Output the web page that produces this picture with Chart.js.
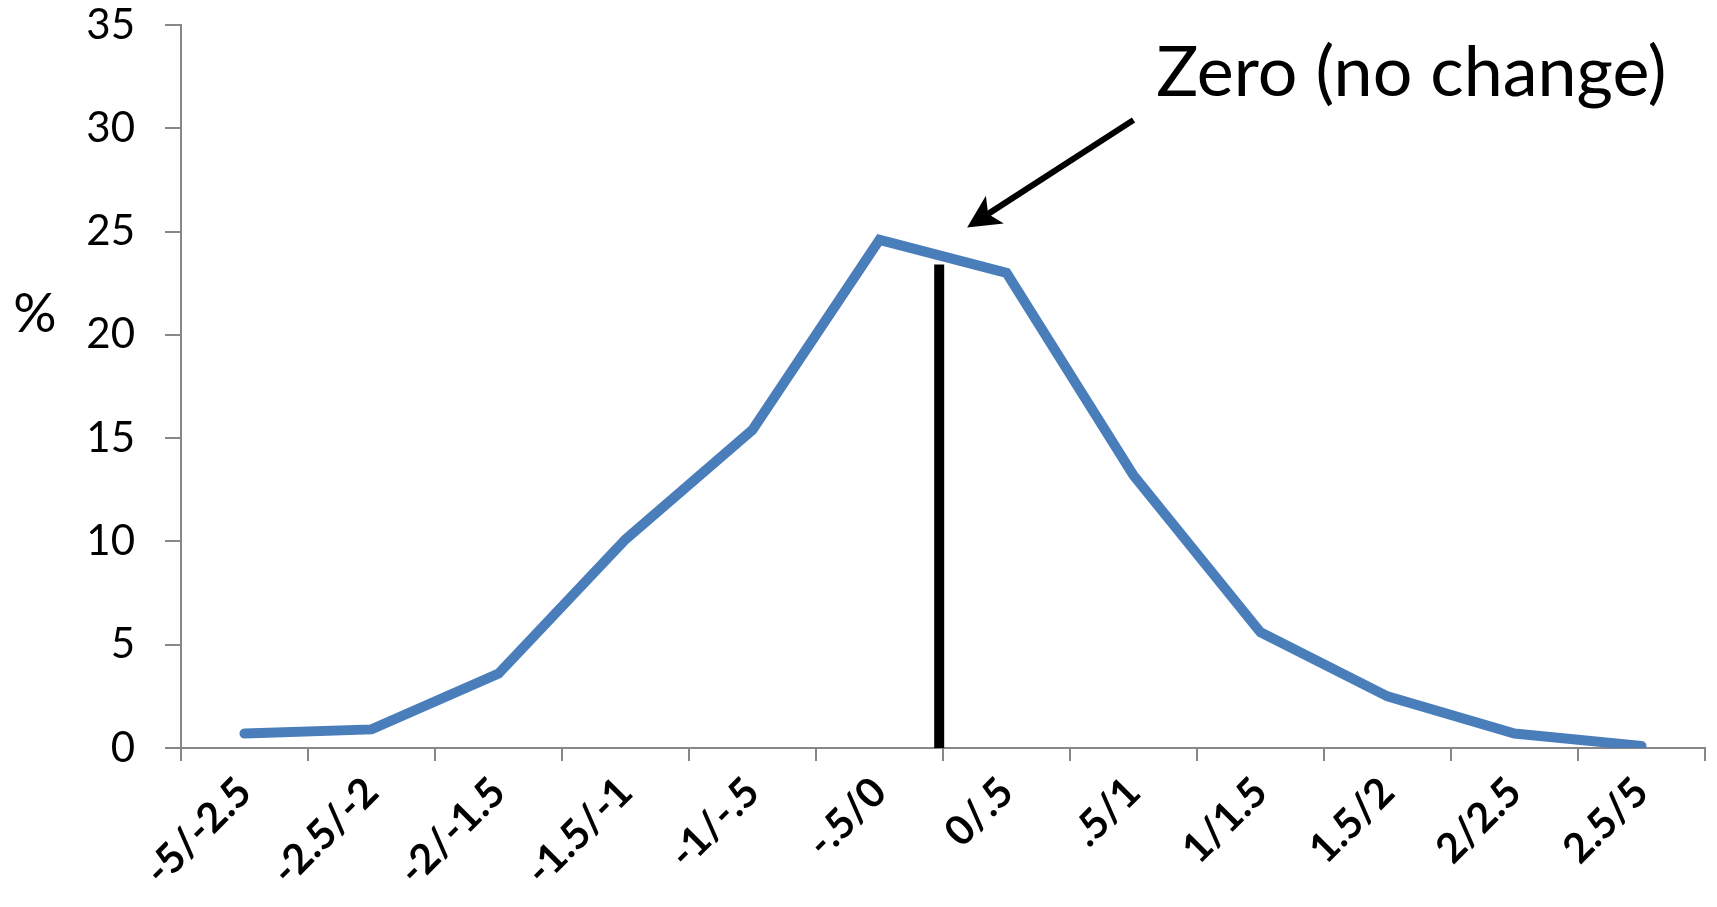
<!DOCTYPE html>
<html>
<head>
<meta charset="utf-8">
<script src="https://cdn.jsdelivr.net/npm/chart.js@4.4.1/dist/chart.umd.min.js"></script>
<style>
  html, body { margin: 0; padding: 0; background: #ffffff; }
  #wrap { width: 1717px; height: 907px; position: relative; }
</style>
</head>
<body>
<div id="wrap"><canvas id="c" width="1717" height="907"></canvas></div>
<script>
// Distribution of changes, grouped into bins
const categories = ['-5/-2.5', '-2.5/-2', '-2/-1.5', '-1.5/-1', '-1/-.5', '-.5/0',
                    '0/.5', '.5/1', '1/1.5', '1.5/2', '2/2.5', '2.5/5'];
const shares = [0.7, 0.9, 3.6, 10.1, 15.4, 24.6, 23.0, 13.2, 5.6, 2.5, 0.7, 0.1];
const yTicks = [0, 5, 10, 15, 20, 25, 30, 35];
const yTitle = '%';

// Zero marker: position on the category axis (index units) and its height in %
const zeroMark = { x: 5.47, top: 23.4 };

// Callout pointing at the zero marker (positions in axis units)
const calloutText = 'Zero (no change)';
const calloutTail = { x: 7.0, y: 30.4 };
const calloutTip = { x: 5.69, y: 25.2 };
const calloutLabel = { x: 7.18, y: 31.55 };

const AXIS_GREY = '#878787';
const LINE_BLUE = '#4A7EBB';
const FONT = 'Lato, "Open Sans", sans-serif';

function drawArrow(ctx, x0, y0, x1, y1) {
  const ang = Math.atan2(y1 - y0, x1 - x0);
  const headLen = 33, headHalf = 16.5, notch = 25;
  const cx = Math.cos(ang), cy = Math.sin(ang);
  const bx = x1 - cx * notch, by = y1 - cy * notch;
  const hx = x1 - cx * headLen, hy = y1 - cy * headLen;
  const nx = -cy, ny = cx;
  ctx.lineWidth = 6;
  ctx.lineCap = 'butt';
  ctx.beginPath();
  ctx.moveTo(x0, y0);
  ctx.lineTo(bx, by);
  ctx.stroke();
  ctx.beginPath();
  ctx.moveTo(x1, y1);
  ctx.lineTo(hx + nx * headHalf, hy + ny * headHalf);
  ctx.lineTo(bx, by);
  ctx.lineTo(hx - nx * headHalf, hy - ny * headHalf);
  ctx.closePath();
  ctx.fill();
}

const overlay = {
  id: 'overlay',
  beforeDatasetsDraw(chart) {
    const { ctx, scales: { x, y } } = chart;
    const px = x.getPixelForValue(zeroMark.x);
    ctx.save();
    ctx.strokeStyle = '#000000';
    ctx.lineWidth = 10;
    ctx.lineCap = 'butt';
    ctx.beginPath();
    ctx.moveTo(px, y.getPixelForValue(0));
    ctx.lineTo(px, y.getPixelForValue(zeroMark.top));
    ctx.stroke();
    ctx.restore();
  },
  afterDraw(chart) {
    const { ctx, scales: { x, y } } = chart;
    ctx.save();
    ctx.fillStyle = '#000000';
    ctx.strokeStyle = '#000000';
    drawArrow(ctx,
      x.getPixelForValue(calloutTail.x), y.getPixelForValue(calloutTail.y),
      x.getPixelForValue(calloutTip.x), y.getPixelForValue(calloutTip.y));

    ctx.font = '70px ' + FONT;
    ctx.textAlign = 'left';
    ctx.textBaseline = 'alphabetic';
    ctx.fillText(calloutText, x.getPixelForValue(calloutLabel.x), y.getPixelForValue(calloutLabel.y));

    // y-axis title
    ctx.font = '54px ' + FONT;
    ctx.textAlign = 'center';
    ctx.textBaseline = 'middle';
    ctx.fillText(yTitle, 35, y.getPixelForValue(21));
    ctx.restore();
  }
};

new Chart(document.getElementById('c'), {
  type: 'line',
  data: {
    labels: categories,
    datasets: [{
      data: shares,
      borderColor: LINE_BLUE,
      borderWidth: 10,
      borderCapStyle: 'round',
      borderJoinStyle: 'miter',
      pointRadius: 0,
      pointHoverRadius: 0,
      tension: 0,
      fill: false
    }]
  },
  options: {
    responsive: false,
    animation: false,
    devicePixelRatio: 1,
    layout: { padding: { top: 25, right: 12, left: 0, bottom: 0 } },
    plugins: { legend: { display: false }, tooltip: { enabled: false } },
    scales: {
      x: {
        offset: true,
        grid: {
          offset: true,
          drawOnChartArea: false,
          drawTicks: true,
          tickLength: 13,
          color: AXIS_GREY,
          lineWidth: 2
        },
        border: { color: AXIS_GREY, width: 2 },
        ticks: {
          color: '#000000',
          font: { family: FONT, size: 41, weight: 'bold' },
          minRotation: 45,
          maxRotation: 45,
          autoSkip: false,
          padding: 7
        },
        afterFit(scale) {
          scale.height = 159;
          scale.paddingLeft = 0;
          scale.paddingRight = 0;
        }
      },
      y: {
        min: 0,
        max: 35,
        afterBuildTicks(scale) { scale.ticks = yTicks.map(v => ({ value: v })); },
        grid: {
          drawOnChartArea: false,
          drawTicks: true,
          tickLength: 16,
          color: AXIS_GREY,
          lineWidth: 2
        },
        border: { color: AXIS_GREY, width: 2 },
        ticks: {
          color: '#000000',
          font: { family: FONT, size: 42 },
          padding: 30
        },
        afterFit(scale) {
          scale.width = 181;
          scale.paddingTop = 0;
          scale.paddingBottom = 0;
        }
      }
    }
  },
  plugins: [overlay]
});
</script>
</body>
</html>
